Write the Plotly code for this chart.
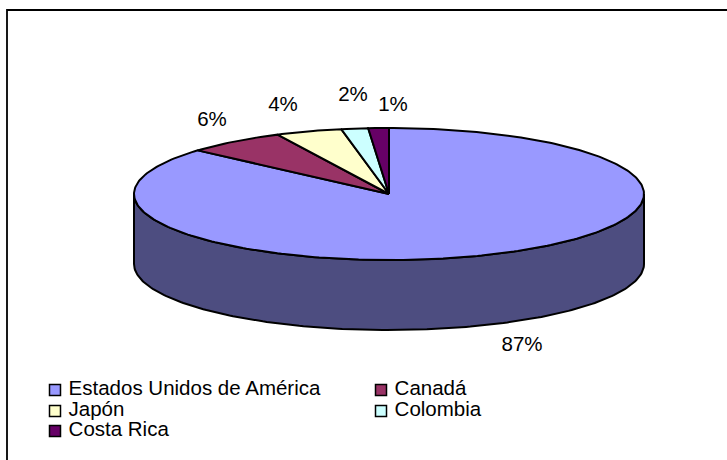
import numpy as np
import plotly.graph_objects as go

categories = ["Estados Unidos de América", "Canadá", "Japón", "Colombia", "Costa Rica"]
values = [86.5, 6.3, 4.2, 1.7, 1.3]
labels = ["87%", "6%", "4%", "2%", "1%"]
colors = ["#9999FF", "#993366", "#FFFFCC", "#CCFFFF", "#660066"]
side_color = "#4D4D80"

CX, CY, RX, RY, DEPTH = 389, 194, 255, 66, 70
label_xy = [(522, 346), (212, 121), (283, 106), (353, 96), (393, 106)]
LEG_COLS = [55, 381]
LEG_ROWS = [390, 411, 431]
FONT_SIZE = 20.5


def rim(start, end, drop=0.0):
    """Ellipse rim between two fractions of the full turn, clockwise from the top."""
    t = np.linspace(start, end, max(3, int(abs(end - start) * 360))) * 2 * np.pi
    return CX + RX * np.sin(t), CY - RY * np.cos(t) + drop


LINE = dict(color="black", width=2)
fig = go.Figure()

x1, y1 = rim(0.25, 0.75)
x2, y2 = rim(0.75, 0.25, DEPTH)
fig.add_trace(go.Scatter(x=np.r_[x1, x2, x1[0]], y=np.r_[y1, y2, y1[0]], mode="lines",
                         fill="toself", fillcolor=side_color, line=LINE,
                         showlegend=False, hoverinfo="skip"))

total = sum(values)
start = 0.0
for name, value, color in zip(categories, values, colors):
    end = start + value / total
    x, y = rim(start, end)
    fig.add_trace(go.Scatter(x=np.r_[CX, x, CX], y=np.r_[CY, y, CY], mode="lines",
                             fill="toself", fillcolor=color, line=LINE, name=name,
                             showlegend=False, hoverinfo="skip"))
    start = end

# legend grid, two columns filled row by row
for i, (name, color) in enumerate(zip(categories, colors)):
    fig.add_trace(go.Scatter(x=[LEG_COLS[i % 2]], y=[LEG_ROWS[i // 2]], mode="markers+text",
                             text=[" " + name], textposition="middle right",
                             textfont=dict(family="Liberation Sans", size=FONT_SIZE, color="black"),
                             marker=dict(symbol="square", size=11, color=color,
                                         line=dict(color="black", width=1.5)),
                             showlegend=False, hoverinfo="skip"))

fig.add_trace(go.Scatter(x=[p[0] for p in label_xy], y=[p[1] for p in label_xy], text=labels,
                         mode="text", textposition="middle center",
                         textfont=dict(family="Liberation Sans", size=FONT_SIZE, color="black"),
                         showlegend=False, hoverinfo="skip"))

fig.update_layout(
    width=727, height=460, margin=dict(l=0, r=0, t=0, b=0),
    paper_bgcolor="white", plot_bgcolor="white", showlegend=False,
    xaxis=dict(range=[0, 727], visible=False, fixedrange=True),
    yaxis=dict(range=[460, 0], visible=False, fixedrange=True),
    shapes=[dict(type="rect", xref="x", yref="y", x0=7, y0=10, x1=760, y1=490,
                 line=dict(color="black", width=1.8))],
)
fig.write_html("out.html", config={"displayModeBar": False},
               post_script="document.body.style.margin='0';document.body.style.overflow='hidden';")
